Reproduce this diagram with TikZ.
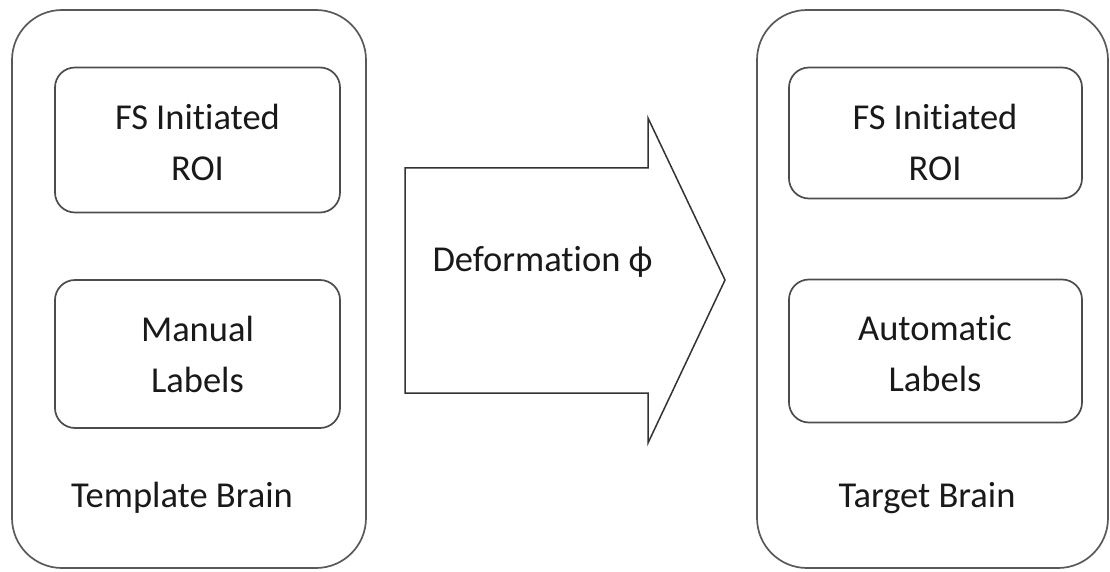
\documentclass[tikz,border=0pt]{standalone}
\usepackage{fontspec}
\setmainfont[Ligatures={NoCommon}]{Carlito}
\begin{document}
\begin{tikzpicture}[x=1pt,y=-1pt,
  outerbox/.style={draw=black!65, line width=1.7pt, rounded corners=50pt, inner sep=0pt},
  innerbox/.style={draw=black!70, line width=1.7pt, rounded corners=20pt, inner sep=0pt},
  lbl/.style={align=center, text=black!90, font=\fontsize{36.5}{51}\selectfont},
  arrowshape/.style={draw=black!80, line width=1.5pt, fill=white}]
\useasboundingbox (0,0) rectangle (1110,572);
% left brain
\node[outerbox, minimum width=354pt, minimum height=558pt] (L) at (189,289) {};
\node[innerbox, minimum width=285pt, minimum height=145pt] (L1) at (197.5,140) {};
\node[innerbox, minimum width=285pt, minimum height=148pt] (L2) at (197.5,354) {};
\node[lbl] (L1t) at (197.5,142) {FS Initiated\\ROI};
\node[lbl] (L2t) at (197.5,354) {Manual\\Labels};
\node[lbl] (Lt) at (182,498) {Template Brain};
% right brain
\node[outerbox, minimum width=351pt, minimum height=558pt] (R) at (932.5,289) {};
\node[innerbox, minimum width=293pt, minimum height=131pt] (R1) at (935.5,133) {};
\node[innerbox, minimum width=293pt, minimum height=143pt] (R2) at (935.5,351) {};
\node[lbl] (R1t) at (935,142) {FS Initiated\\ROI};
\node[lbl] (R2t) at (935,354) {Automatic\\Labels};
\node[lbl] (Rt) at (927,498) {Target Brain};
% deformation arrow
\draw[arrowshape] (405,168) -- (648,168) -- (648,118) -- (725,280) -- (648,443) -- (648,393) -- (405,393) -- cycle;
\node[lbl, anchor=west] (D) at (429,262) {Deformation ϕ};
\end{tikzpicture}
\end{document}
